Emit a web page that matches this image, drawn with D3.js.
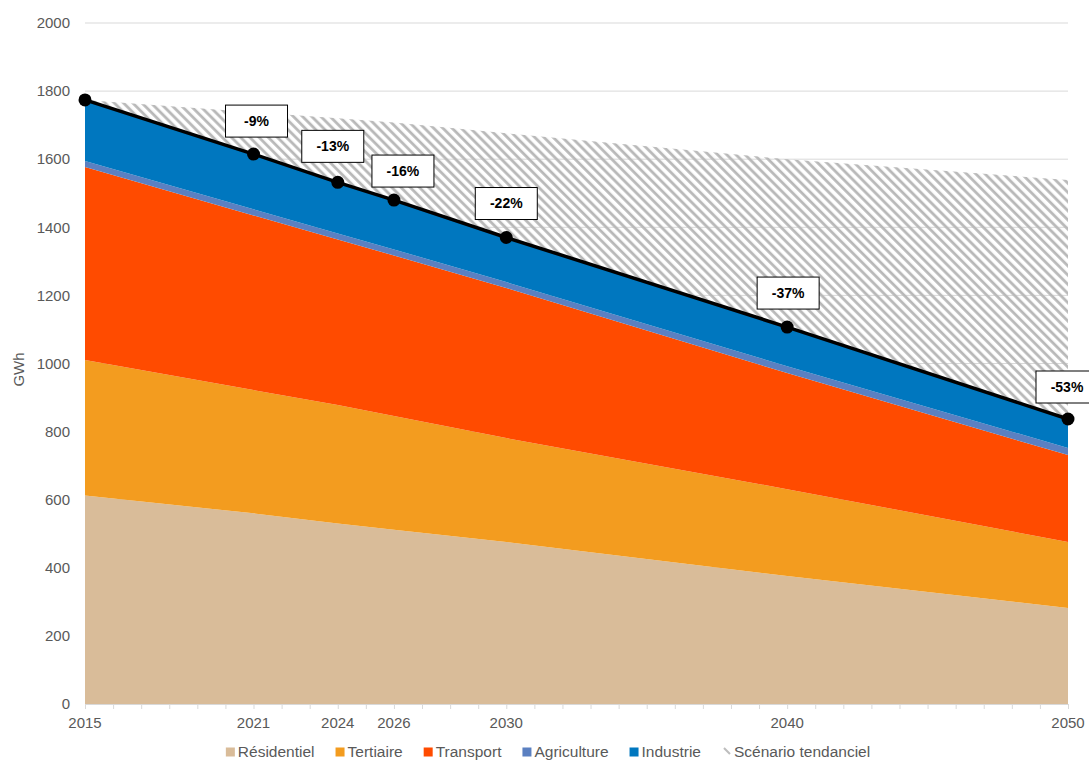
<!DOCTYPE html>
<meta charset="utf-8">
<script src="https://d3js.org/d3.v7.min.js"></script>
<style>
  body { margin: 0; background: #fff; }
  text { font-family: "Liberation Sans", Arial, sans-serif; }
</style>
<div id="chart"></div>
<script>

// data (GWh)
var years       = [2015, 2021, 2024, 2026, 2030, 2040, 2050];
var residentiel = [612, 560, 530, 512, 476, 376, 282];
var tertiaire   = [398, 362, 348, 334, 305, 255, 194];
var transport   = [567, 513, 486, 471, 441, 341, 255];
var agriculture = [18, 18, 18, 18, 17, 20, 21];
var industrie   = [179, 162, 150, 145, 131, 115, 85];
var tendanciel  = [1774, 1738, 1720, 1708, 1676, 1600, 1539];
var evolution   = ["", "-9%", "-13%", "-16%", "-22%", "-37%", "-53%"];
var yTicks      = [0, 200, 400, 600, 800, 1000, 1200, 1400, 1600, 1800, 2000];

var keys   = ["Résidentiel", "Tertiaire", "Transport", "Agriculture", "Industrie"];
var series = [residentiel, tertiaire, transport, agriculture, industrie];
var colors = ["#d9bc99", "#f39c1f", "#ff4b00", "#5b80c1", "#0077bf"];

var table = years.map(function(y, i) {
  var row = {year: y};
  keys.forEach(function(k, j) { row[k] = series[j][i]; });
  return row;
});

var W = 1089, H = 762;
var margin = {top: 23, right: 21, bottom: 58, left: 85};

var svg = d3.select("#chart").append("svg")
  .attr("width", W).attr("height", H);

var x = d3.scaleLinear().domain([2015, 2050]).range([margin.left, W - margin.right]);
var y = d3.scaleLinear().domain([0, 2000]).range([H - margin.bottom, margin.top]);

// hatch pattern for the trend scenario
var defs = svg.append("defs");
defs.append("pattern")
  .attr("id", "hatch")
  .attr("patternUnits", "userSpaceOnUse")
  .attr("width", 6.5).attr("height", 6.5)
  .attr("patternTransform", "rotate(-45)")
  .append("line")
    .attr("x1", 1.6).attr("y1", -1).attr("x2", 1.6).attr("y2", 8)
    .attr("stroke", "#b8b8b8").attr("stroke-width", 2.8);

// gridlines
svg.append("g").selectAll("line")
  .data(yTicks.slice(1))
  .join("line")
    .attr("x1", x(2015)).attr("x2", x(2050))
    .attr("y1", function(d) { return y(d); })
    .attr("y2", function(d) { return y(d); })
    .attr("stroke", "#d9d9d9").attr("stroke-width", 1);

// y tick labels
svg.append("g").selectAll("text")
  .data(yTicks)
  .join("text")
    .attr("x", 70)
    .attr("y", function(d) { return y(d); })
    .attr("dy", "0.35em")
    .attr("text-anchor", "end")
    .style("font-size", "15px")
    .style("fill", "#595959")
    .text(function(d) { return d; });

svg.append("text")
  .attr("transform", "translate(24," + (y(1000) + 6) + ") rotate(-90)")
  .attr("text-anchor", "middle")
  .style("font-size", "15px")
  .style("fill", "#595959")
  .text("GWh");

// stacked areas
var stacked = d3.stack().keys(keys)(table);
var area = d3.area()
  .x(function(d) { return x(d.data.year); })
  .y0(function(d) { return y(d[0]); })
  .y1(function(d) { return y(d[1]); });

svg.append("g").selectAll("path")
  .data(stacked)
  .join("path")
    .attr("fill", function(d, i) { return colors[i]; })
    .attr("d", area);

// trend scenario, between total and trend
var totals = stacked[stacked.length - 1].map(function(d) { return d[1]; });
svg.append("path")
  .datum(years.map(function(yr, i) { return {year: yr, lo: totals[i], hi: tendanciel[i]}; }))
  .attr("fill", "url(#hatch)")
  .attr("d", d3.area()
    .x(function(d) { return x(d.year); })
    .y0(function(d) { return y(d.lo); })
    .y1(function(d) { return y(d.hi); }));

// x axis
var xAxis = svg.append("g")
  .attr("transform", "translate(0," + y(0) + ")")
  .call(d3.axisBottom(x).tickValues(d3.range(2015, 2051)).tickSize(5).tickFormat(""));
xAxis.select(".domain").attr("stroke", "#d9d9d9");
xAxis.selectAll(".tick line").attr("stroke", "#d9d9d9");

svg.append("g").selectAll("text")
  .data(years)
  .join("text")
    .attr("x", function(d) { return x(d); })
    .attr("y", y(0) + 24)
    .attr("text-anchor", "middle")
    .style("font-size", "15px")
    .style("fill", "#595959")
    .text(function(d) { return d; });

// total line with markers
var pts = years.map(function(yr, i) { return {year: yr, total: totals[i], label: evolution[i]}; });
svg.append("path")
  .datum(pts)
  .attr("fill", "none")
  .attr("stroke", "#000")
  .attr("stroke-width", 3.5)
  .attr("d", d3.line()
    .x(function(d) { return x(d.year); })
    .y(function(d) { return y(d.total); }));

svg.append("g").selectAll("circle")
  .data(pts)
  .join("circle")
    .attr("cx", function(d) { return x(d.year); })
    .attr("cy", function(d) { return y(d.total); })
    .attr("r", 6.5)
    .attr("fill", "#000");

// evolution labels (small nudges like the original)
var nudge = {2021: [3, -33], 2024: [-5, -36], 2026: [9, -29], 2030: [0, -34], 2040: [1, -34], 2050: [-1, -32]};
var lab = svg.append("g").selectAll("g")
  .data(pts.filter(function(d) { return d.label; }))
  .join("g")
    .attr("transform", function(d) {
      var n = nudge[d.year];
      return "translate(" + (x(d.year) + n[0]) + "," + (y(d.total) + n[1]) + ")";
    });
lab.append("rect")
  .attr("x", -31).attr("y", -16).attr("width", 62).attr("height", 32)
  .attr("fill", "#fff").attr("stroke", "#000").attr("stroke-width", 1);
lab.append("text")
  .attr("text-anchor", "middle")
  .attr("dy", "0.35em")
  .style("font-size", "14px")
  .style("font-weight", "bold")
  .text(function(d) { return d.label; });

// legend
var legendNames = keys.concat(["Scénario tendanciel"]);
var leg = svg.append("g");
var items = leg.selectAll("g")
  .data(legendNames)
  .join("g");
items.append("text")
  .attr("x", 12)
  .attr("y", 0)
  .attr("dy", "0.35em")
  .style("font-size", "15.5px")
  .style("fill", "#595959")
  .text(function(d) { return d; });
items.each(function(d, i) {
  var g = d3.select(this);
  if (i < colors.length) {
    g.append("rect").attr("x", 0).attr("y", -4.5).attr("width", 9).attr("height", 9)
      .attr("fill", colors[i]);
  } else {
    g.append("line").attr("x1", 2).attr("y1", -4).attr("x2", 8).attr("y2", 2)
      .attr("stroke", "#bdbdbd").attr("stroke-width", 2);
  }
});
var cx = 0;
items.each(function() {
  var g = d3.select(this);
  g.attr("transform", "translate(" + cx + ",0)");
  cx += 12 + g.select("text").node().getComputedTextLength() + 21;
});
cx -= 21;
leg.attr("transform", "translate(" + (548 - cx / 2) + "," + 752 + ")");

</script>
